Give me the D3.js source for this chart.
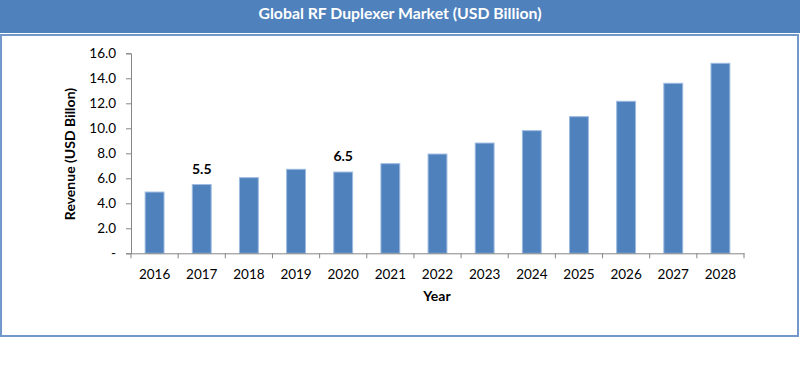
<!DOCTYPE html>
<html><head><meta charset="utf-8">
<script src="https://cdn.jsdelivr.net/npm/d3@7"></script>
<style>
html,body{margin:0;padding:0;background:#fff;}
svg{display:block;font-family:Lato,"Open Sans",sans-serif;}
</style></head>
<body>
<svg id="chart" width="800" height="376"></svg>
<script>
const title = "Global RF Duplexer Market (USD Billion)";
const years = ["2016","2017","2018","2019","2020","2021","2022","2023","2024","2025","2026","2027","2028"];
const revenue = [4.9, 5.5, 6.05, 6.72, 6.5, 7.17, 7.94, 8.82, 9.81, 10.93, 12.16, 13.6, 15.2];
const labelled = {"2017": "5.5", "2020": "6.5"};
const yTicks = [0, 2, 4, 6, 8, 10, 12, 14, 16];
const xTitle = "Year";
const yTitle = "Revenue (USD Billon)";

const svg = d3.select("#chart");
// banner
svg.append("rect").attr("x",0).attr("y",0).attr("width",800).attr("height",33).attr("fill","#4F81BD");
svg.append("text").attr("x",400).attr("y",19).attr("text-anchor","middle")
  .attr("fill","#fff").attr("font-weight","bold").attr("font-size",15.8).text(title);
// frame
svg.append("rect").attr("x",1).attr("y",35).attr("width",797).attr("height",301)
  .attr("fill","#fff").attr("stroke","#7197CB").attr("stroke-width",2);

const x = d3.scaleBand().domain(years).range([131, 744]).paddingInner(0.6).paddingOuter(0.3);
const y = d3.scaleLinear().domain([0,16]).range([253.3, 53.3]);

// bars
svg.append("g").selectAll("rect").data(years).join("rect")
  .attr("x", d => x(d)).attr("width", x.bandwidth())
  .attr("y", (d,i) => y(revenue[i])).attr("height", (d,i) => y(0) - y(revenue[i]))
  .attr("fill","#4F81BD").attr("stroke","#9DBBE0").attr("stroke-width",1);

// y axis
const yAxis = d3.axisLeft(y).tickValues(yTicks).tickSize(5).tickPadding(10)
  .tickFormat(d => d === 0 ? "-" : d3.format(".1f")(d));
const gy = svg.append("g").attr("transform","translate(131,0)").call(yAxis);
gy.selectAll("text").attr("font-size",13.5).attr("fill","#000").attr("font-family","Lato, sans-serif");
gy.selectAll("line,path").attr("stroke","#868686");

// x axis with ticks at band boundaries
const xAxis = d3.axisBottom(x).tickSize(0).tickPadding(16);
const gx = svg.append("g").attr("transform","translate(0,253.3)").call(xAxis);
gx.selectAll("text").attr("font-size",13.5).attr("fill","#000").attr("font-family","Lato, sans-serif");
gx.selectAll("path").attr("stroke","#868686");
const bounds = d3.range(years.length + 1).map(i => 131 + i * (613 / years.length));
gx.selectAll("line.bt").data(bounds).join("line").attr("class","bt")
  .attr("x1", d => d).attr("x2", d => d).attr("y1",0).attr("y2",5).attr("stroke","#868686");

// value labels
svg.append("g").selectAll("text").data(years.filter(d => labelled[d])).join("text")
  .attr("x", d => x(d) + x.bandwidth()/2)
  .attr("y", d => y(revenue[years.indexOf(d)]) - 11)
  .attr("text-anchor","middle").attr("font-weight","bold").attr("font-size",14)
  .text(d => labelled[d]);

// axis titles
svg.append("text").attr("x",437).attr("y",301).attr("text-anchor","middle")
  .attr("font-weight","bold").attr("font-size",14).text(xTitle);
svg.append("text").attr("transform","translate(75,154) rotate(-90)").attr("text-anchor","middle")
  .attr("font-weight","bold").attr("font-size",14).text(yTitle);
</script>
</body></html>
